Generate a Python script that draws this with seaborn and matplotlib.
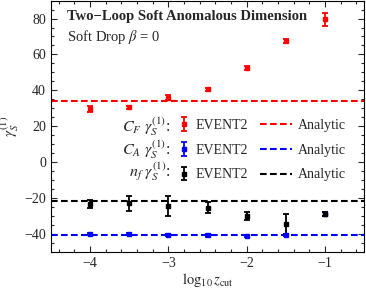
import numpy as np
import pandas as pd
import seaborn as sns
import matplotlib
matplotlib.use('Agg')
import matplotlib.pyplot as plt
from matplotlib.ticker import MultipleLocator

# data
log_zcut = [-4.0, -3.5, -3.0, -2.5, -2.0, -1.5, -1.0]

cf_vals = [29.7, 30.5, 36.0, 40.6, 52.5, 67.6, 79.5]
cf_errs = [1.5, 1.0, 1.5, 1.0, 1.0, 1.2, 3.6]
cf_analytic = 34.2

ca_vals = [-40.2, -40.2, -40.5, -40.8, -41.2, -40.6, -28.7]
ca_errs = [0.6, 0.6, 0.6, 0.6, 0.6, 0.6, 1.0]
ca_analytic = -40.4

nf_vals = [-23.4, -22.9, -24.6, -25.3, -29.9, -34.6, -28.7]
nf_errs = [2.1, 4.1, 5.6, 3.0, 2.3, 5.6, 1.0]
nf_analytic = -21.6

series = [
    ("CF", cf_vals, cf_errs, cf_analytic, "#ff0000", r"$C_F\ \gamma_S^{(1)}$:"),
    ("CA", ca_vals, ca_errs, ca_analytic, "#0000ff", r"$C_A\ \gamma_S^{(1)}$:"),
    ("nf", nf_vals, nf_errs, nf_analytic, "#000000", r"$n_f\ \gamma_S^{(1)}$:"),
]

sns.set_theme(style="ticks")
plt.rcParams['font.family'] = ['Liberation Serif', 'DejaVu Serif']
plt.rcParams['mathtext.fontset'] = 'stix'
plt.rcParams['xtick.direction'] = 'in'
plt.rcParams['ytick.direction'] = 'in'
plt.rcParams['axes.linewidth'] = 0.8

fig = plt.figure(figsize=(3.66, 2.91), dpi=100)
ax = fig.add_axes([0.139, 0.134, 0.856, 0.864])

err_handles = []
line_handles = []
for name, vals, errs, analytic, color, lab in series:
    ln = ax.axhline(analytic, color=color, linestyle=(0, (3.2, 1.6)), linewidth=1.5, zorder=1)
    line_handles.append(ln)
for name, vals, errs, analytic, color, lab in series:
    df = pd.DataFrame({"x": log_zcut, "y": vals, "e": errs})
    eb = ax.errorbar(df["x"], df["y"], yerr=df["e"], fmt='s', color=color,
                     markersize=2.6, elinewidth=1.3, capsize=2.2, capthick=1.3, zorder=3)
    err_handles.append(eb)

ax.set_xlim(-4.5, -0.5)
ax.set_ylim(-50, 90)
ax.xaxis.set_major_locator(MultipleLocator(1))
ax.xaxis.set_minor_locator(MultipleLocator(0.2))
ax.yaxis.set_major_locator(MultipleLocator(20))
ax.yaxis.set_minor_locator(MultipleLocator(5))
ax.tick_params(which='both', top=True, right=True, labelsize=10, width=0.8)
ax.tick_params(which='major', length=4)
ax.tick_params(which='minor', length=2)
for s in ax.spines.values():
    s.set_color('black')
ax.set_xticks([-4, -3, -2, -1])
ax.set_xticklabels(["\u22124", "\u22123", "\u22122", "\u22121"])
ax.set_yticks([-40, -20, 0, 20, 40, 60, 80])
ax.set_yticklabels(["\u221240", "\u221220", "0", "20", "40", "60", "80"])

ax.set_xlabel(r"$\log_{10} z_{\rm cut}$", fontsize=10.5, labelpad=1)
ax.set_ylabel(r"$\gamma_S^{(1)}$", fontsize=11, labelpad=2)

ax.text(0.051, 0.923, "Two\u2212Loop Soft Anomalous Dimension", transform=ax.transAxes,
        fontsize=10.5, fontweight='bold', va='baseline', ha='left')
ax.text(0.051, 0.841, r"Soft Drop $\beta$ = 0", transform=ax.transAxes,
        fontsize=10.5, va='baseline', ha='left')

leg1 = ax.legend(err_handles, ["EVENT2"] * 3, loc='upper left', bbox_to_anchor=(0.403, 0.53),
                 frameon=False, borderpad=0, borderaxespad=0, handlelength=1.0,
                 handletextpad=0.36, labelspacing=0.85, fontsize=10)
ax.add_artist(leg1)
ax.legend(line_handles, ["Analytic"] * 3, loc='upper left', bbox_to_anchor=(0.668, 0.53),
          frameon=False, borderpad=0, borderaxespad=0, handlelength=2.3,
          handletextpad=0.43, labelspacing=0.85, fontsize=10)

for i, (name, vals, errs, analytic, color, lab) in enumerate(series):
    ax.text(0.383, 0.500 - i * 0.091, lab, transform=ax.transAxes, fontsize=11.5,
            ha='right', va='center')

fig.savefig("out.png", dpi=100)
